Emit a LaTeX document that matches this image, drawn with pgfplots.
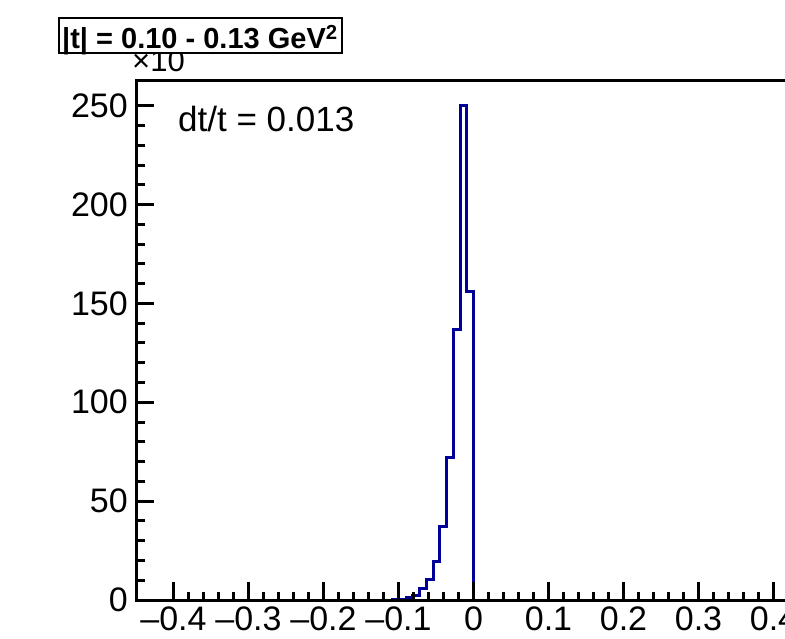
\documentclass[border=0pt]{standalone}
\usepackage{pgfplots}
\pgfplotsset{compat=1.18}
\usepackage{fontspec}
\setmainfont{Liberation Sans}
\definecolor{histblue}{RGB}{0,0,153}
\pgfplotstableread{
x y
-0.450 0
-0.108 0.2
-0.099 0.5
-0.090 1.5
-0.081 2.5
-0.072 6
-0.063 10.5
-0.054 19.5
-0.045 37
-0.036 72
-0.027 137
-0.018 250
-0.009 156
0.000 0
0.450 0
}\histdata
\begin{document}
\begin{tikzpicture}
\begin{axis}[
  at={(136pt,38pt)}, anchor=south west,
  scale only axis, width=675pt, height=519pt,
  xmin=-0.45, xmax=0.45, ymin=0, ymax=262.5,
  axis on top, clip=false,
  axis line style={line width=3pt},
  every tick/.style={black, line width=3pt},
  tick align=inside,
  xtick pos=bottom, ytick pos=left,
  major tick length=18pt, minor tick length=8.5pt,
  xtick={-0.4,-0.3,-0.2,-0.1,0,0.1,0.2,0.3,0.4},
  xticklabels={–0.4,–0.3,–0.2,–0.1,0,0.1,0.2,0.3,0.4},
  minor x tick num=4,
  ytick={0,50,100,150,200,250},
  yticklabels={0,50,100,150,200,250},
  minor y tick num=4,
  tick label style={font=\fontsize{34}{34}\selectfont},
  x tick label style={yshift=-7pt, inner sep=0pt},
  y tick label style={xshift=-8pt, inner sep=0pt},
]
\addplot[const plot mark left, histblue, line width=3pt] table[x=x,y=y] {\histdata};
\end{axis}
\node[anchor=base west, inner sep=0pt, font=\fontsize{31}{31}\selectfont] at (132pt,566pt) {×10};
\draw[line width=2.5pt, fill=white] (59pt,585pt) rectangle (342pt,620pt);
\node[anchor=base west, inner sep=0pt, font=\fontsize{29}{29}\selectfont\bfseries] at (62pt,589pt) {|t| = 0.10 - 0.13 GeV\textsuperscript{2}};
\node[anchor=base west, inner sep=0pt, font=\fontsize{35}{35}\selectfont] at (178pt,506pt) {dt/t = 0.013};
\pgfresetboundingbox
\path[use as bounding box] (0pt,0pt) rectangle (785pt,638pt);
\end{tikzpicture}
\end{document}
